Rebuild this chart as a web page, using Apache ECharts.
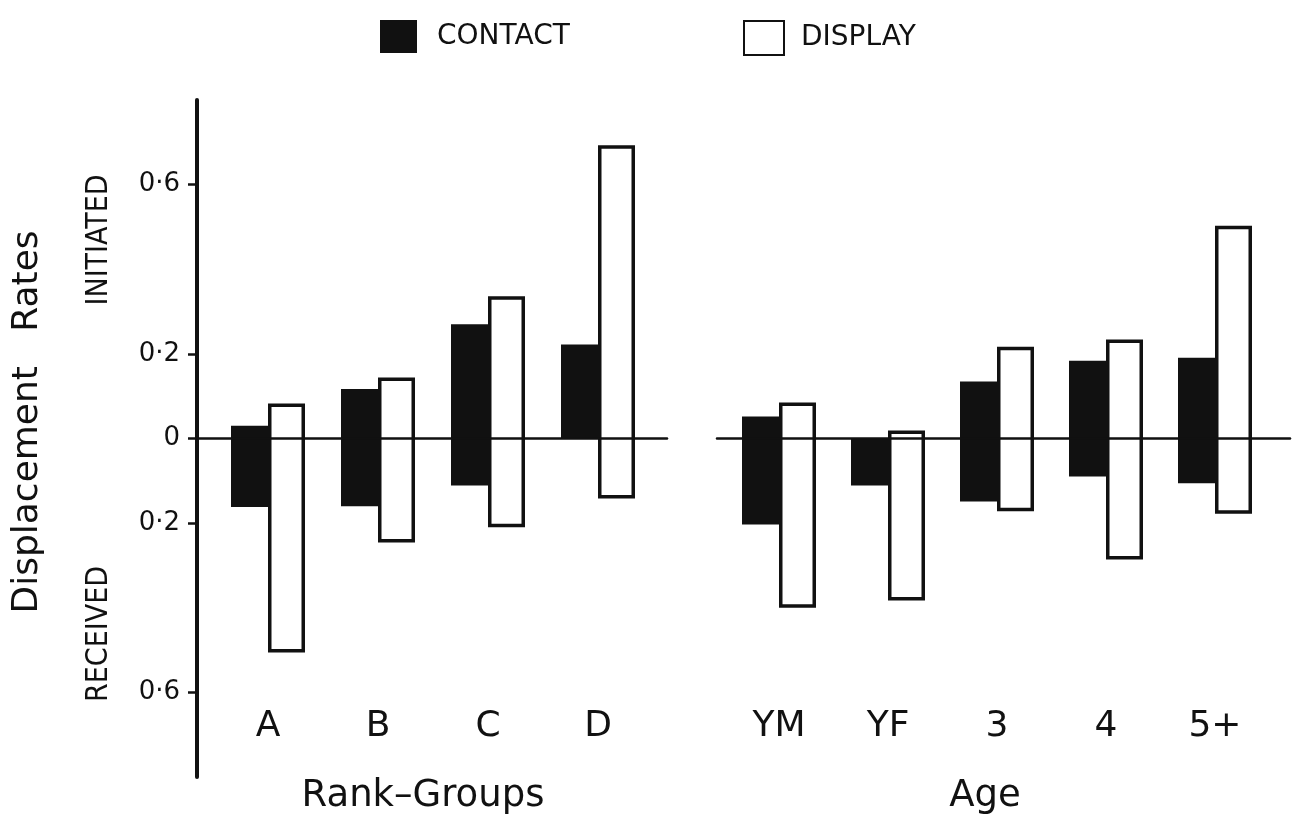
<!DOCTYPE html>
<html>
<head>
<meta charset="utf-8">
<title>Displacement Rates</title>
<script src="https://cdn.jsdelivr.net/npm/echarts@6/dist/echarts.min.js"></script>
<style>
  html, body { margin: 0; padding: 0; background: #fff; }
  #chart { width: 1292px; height: 815px; }
</style>
</head>
<body>
<div id="chart"></div>
<script>
// Categories
const rankGroups = ['A', 'B', 'C', 'D'];
const ageGroups = ['YM', 'YF', '3', '4', '5+'];

// Displacement rates: initiated (upward) and received (downward, stored as negative)
const rankContactInitiated = [0.030, 0.117, 0.270, 0.222];
const rankContactReceived  = [-0.162, -0.160, -0.111, 0];
const rankDisplayInitiated = [0.083, 0.144, 0.336, 0.693];
const rankDisplayReceived  = [-0.506, -0.246, -0.210, -0.142];

const ageContactInitiated = [0.052, 0, 0.135, 0.184, 0.191];
const ageContactReceived  = [-0.203, -0.111, -0.149, -0.090, -0.106];
const ageDisplayInitiated = [0.085, 0.019, 0.217, 0.234, 0.503];
const ageDisplayReceived  = [-0.400, -0.383, -0.172, -0.286, -0.178];

// Y axis ticks (labels show magnitude only)
const yTickValues = [-0.6, -0.2, 0, 0.2, 0.6];

const INK = '#111';
const FONT = "'DejaVu Sans', 'Liberation Sans', sans-serif";
const FONT_NARROW = "'DejaVu Sans Condensed', 'Liberation Sans Narrow', sans-serif";

const Y_MIN = -0.8, Y_MAX = 0.8;
const TOP = 100, BOTTOM = 38;

const contactStyle = { color: INK };
const displayStyle = { color: '#fff', borderColor: INK, borderWidth: 3.5 };

// Each bar spans from the received rate (below zero) up to the initiated rate:
// an invisible base segment reaches down to the received value, and the visible
// segment is stacked on it with the full span.
function rangeBars(name, initiated, received, gridIdx, style) {
  const stack = name + gridIdx;
  const span = initiated.map((v, i) => v - received[i]);
  const common = {
    type: 'bar', stack, stackStrategy: 'all',
    xAxisIndex: gridIdx, yAxisIndex: gridIdx,
    barWidth: 37, barGap: '0%',
    emphasis: { disabled: true }, silent: true, z: 2
  };
  return [
    Object.assign({}, common, { name: name + ' base', data: received, itemStyle: { color: 'rgba(0,0,0,0)' } }),
    Object.assign({}, common, { name, data: span, itemStyle: style })
  ];
}

function categoryAxis(gridIdx, data, name, namePad) {
  return {
    type: 'category', gridIndex: gridIdx, data,
    position: 'bottom',
    axisLine: { show: false },
    axisTick: { show: false },
    axisLabel: { margin: -68, fontSize: 36, color: INK, fontFamily: FONT },
    name, nameLocation: 'middle', nameGap: 1,
    nameTextStyle: { fontSize: 37, color: INK, fontFamily: FONT, padding: namePad }
  };
}

function hiddenValueAxis(gridIdx) {
  return { type: 'value', gridIndex: gridIdx, min: Y_MIN, max: Y_MAX, show: false };
}

function zeroLineAxis(gridIdx) {
  return {
    type: 'category', gridIndex: gridIdx, data: [''],
    z: 10,
    axisLine: { show: true, onZero: true, lineStyle: { color: INK, width: 2.5 } },
    axisTick: { show: false },
    axisLabel: { show: false },
    splitLine: { show: false }
  };
}

function grid(left, width) {
  return { left, width, top: TOP, bottom: BOTTOM, containLabel: false, outerBoundsMode: 'none' };
}

const option = {
  backgroundColor: '#fff',
  animation: false,
  legend: [
    {
      data: ['CONTACT'], left: 375, top: 15,
      itemWidth: 37, itemHeight: 33, icon: 'rect',
      textStyle: { fontSize: 28, color: INK, fontFamily: FONT, padding: [0, 0, 0, 15] }
    },
    {
      data: ['DISPLAY'], left: 738, top: 15,
      itemWidth: 40, itemHeight: 34, icon: 'rect',
      textStyle: { fontSize: 28, color: INK, fontFamily: FONT, padding: [0, 0, 0, 12] }
    }
  ],
  grid: [
    grid(213, 440),      // rank-group bars
    grid(724.5, 545),    // age bars
    grid(197, 470),      // left baseline + y axis
    grid(717, 573)       // right baseline
  ],
  xAxis: [
    categoryAxis(0, rankGroups, 'Rank\u2013Groups', [0, 20, 0, 0]),
    categoryAxis(1, ageGroups, 'Age', [0, 24, 0, 0]),
    zeroLineAxis(2),
    zeroLineAxis(3)
  ],
  yAxis: [
    hiddenValueAxis(0),
    hiddenValueAxis(1),
    {
      type: 'value', gridIndex: 2, min: Y_MIN, max: Y_MAX, interval: 0.2,
      z: 10,
      axisLine: { show: true, lineStyle: { color: INK, width: 4 } },
      axisTick: { show: true, length: 9, customValues: yTickValues, lineStyle: { color: INK, width: 2.5 } },
      axisLabel: {
        customValues: yTickValues, margin: 17, fontSize: 26, color: INK, fontFamily: FONT,
        formatter: v => (Math.abs(v) < 1e-9 ? '0' : Math.abs(v).toFixed(1).replace('.', '\u00B7'))
      },
      splitLine: { show: false }
    },
    hiddenValueAxis(3)
  ],
  graphic: [
    {
      type: 'text', x: 28, y: 422, rotation: Math.PI / 2,
      style: { text: 'Displacement   Rates', font: `36px ${FONT}`, fill: INK, align: 'center', verticalAlign: 'middle' }
    },
    {
      type: 'text', x: 99, y: 240, rotation: Math.PI / 2,
      style: { text: 'INITIATED', font: `30px ${FONT_NARROW}`, fill: INK, align: 'center', verticalAlign: 'middle' }
    },
    {
      type: 'text', x: 99, y: 634, rotation: Math.PI / 2,
      style: { text: 'RECEIVED', font: `30px ${FONT_NARROW}`, fill: INK, align: 'center', verticalAlign: 'middle' }
    }
  ],
  series: [].concat(
    rangeBars('CONTACT', rankContactInitiated, rankContactReceived, 0, contactStyle),
    rangeBars('DISPLAY', rankDisplayInitiated, rankDisplayReceived, 0, displayStyle),
    rangeBars('CONTACT', ageContactInitiated, ageContactReceived, 1, contactStyle),
    rangeBars('DISPLAY', ageDisplayInitiated, ageDisplayReceived, 1, displayStyle)
  )
};

const chart = echarts.init(document.getElementById('chart'), null, { renderer: 'canvas' });
chart.setOption(option);
</script>
</body>
</html>
